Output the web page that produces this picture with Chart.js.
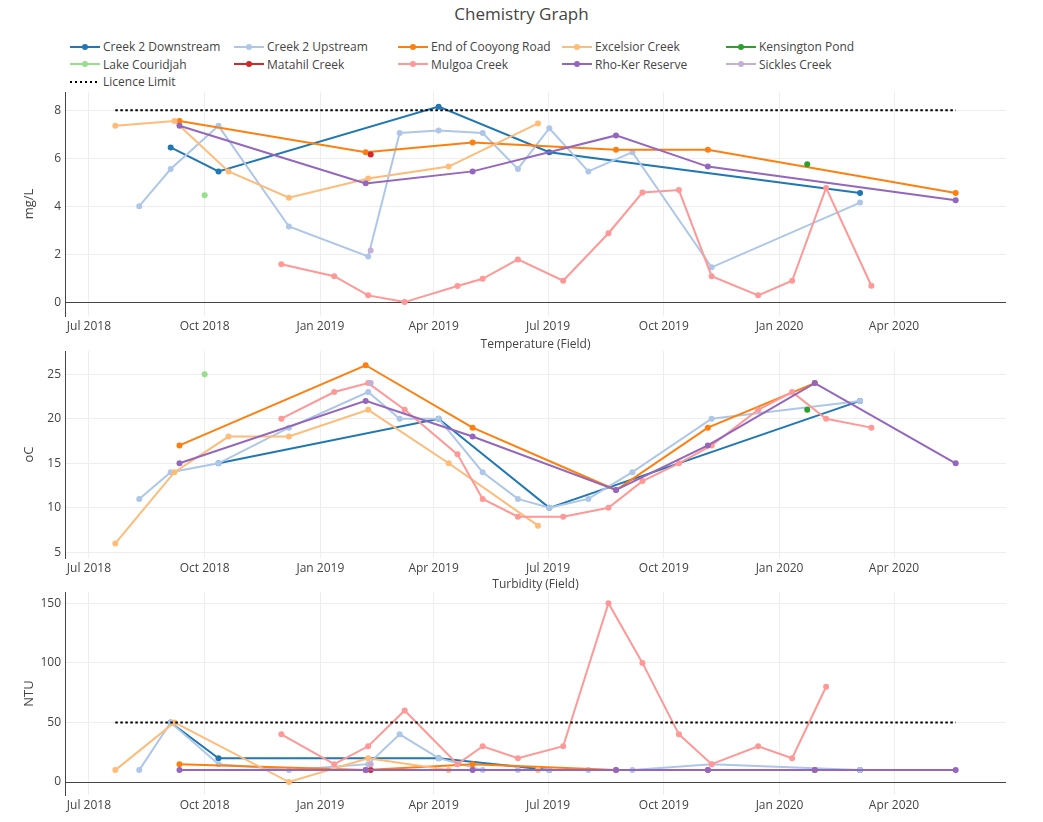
<!DOCTYPE html>
<html>
<head>
<meta charset="utf-8">
<title>Chemistry Graph</title>
<script src="https://cdn.jsdelivr.net/npm/chart.js@4/dist/chart.umd.min.js"></script>
<style>
  body { margin: 0; background: #fff; font-family: "Open Sans", sans-serif; color: #444; }
  #page { position: relative; width: 1043px; height: 822px; overflow: hidden; }
  .box { position: absolute; left: 0; width: 1043px; }
  .title { position: absolute; left: 0; top: 4px; width: 1043px; text-align: center; font-size: 17px; line-height: 20px; }
  .sub { position: absolute; left: 65px; width: 941px; text-align: center; font-size: 12px; line-height: 16px; }
  #legend { position: absolute; left: 65px; top: 38px; display: grid; grid-template-columns: repeat(5, 164px); grid-auto-rows: 17.5px; font-size: 12px; }
  .item { display: flex; align-items: center; white-space: nowrap; }
  .sym { position: relative; width: 30px; height: 10px; margin: 0 3px 0 5px; }
  .sym .ln { position: absolute; left: 0; right: 0; top: 4px; height: 2px; }
  .sym .dot { position: absolute; left: 12px; top: 2px; width: 6px; height: 6px; border-radius: 50%; }
  .sym .dash { position: absolute; left: 0; right: 0; top: 4px; height: 2px;
    background: repeating-linear-gradient(90deg, #000 0 2.5px, transparent 2.5px 5px); }
</style>
</head>
<body>
<div id="page">
  <div class="title">Chemistry Graph</div>
  <div id="legend"></div>
  <div class="box" style="top:88px;height:248px"><canvas id="doChart"></canvas></div>
  <div class="box" style="top:347px;height:231px"><canvas id="tempChart"></canvas></div>
  <div class="box" style="top:588px;height:227px"><canvas id="ntuChart"></canvas></div>
  <div class="sub" style="top:336px">Temperature (Field)</div>
  <div class="sub" style="top:576px">Turbidity (Field)</div>
</div>
<script>
const siteNames = ['Creek 2 Downstream', 'Creek 2 Upstream', 'End of Cooyong Road', 'Excelsior Creek', 'Kensington Pond',
  'Lake Couridjah', 'Matahil Creek', 'Mulgoa Creek', 'Rho-Ker Reserve', 'Sickles Creek'];
const siteColors = ['#1f77b4', '#aec7e8', '#ff7f0e', '#ffbb78', '#2ca02c',
  '#98df8a', '#d62728', '#ff9896', '#9467bd', '#c5b0d5'];

const quarterTicks = ['2018-07-01', '2018-10-01', '2019-01-01', '2019-04-01', '2019-07-01',
  '2019-10-01', '2020-01-01', '2020-04-01'];
const monthNames = ['Jan', 'Feb', 'Mar', 'Apr', 'May', 'Jun', 'Jul', 'Aug', 'Sep', 'Oct', 'Nov', 'Dec'];

// dissolved oxygen, mg/L
const doCreek2Down = [['2018-09-04', 6.45], ['2018-10-12', 5.45], ['2019-04-05', 8.15], ['2019-07-02', 6.25], ['2020-03-05', 4.55]];
const doCreek2Up = [['2018-08-10', 4.0], ['2018-09-04', 5.55], ['2018-10-12', 7.35], ['2018-12-07', 3.15], ['2019-02-08', 1.9],
  ['2019-03-05', 7.05], ['2019-04-05', 7.15], ['2019-05-10', 7.05], ['2019-06-07', 5.55], ['2019-07-02', 7.25],
  ['2019-08-02', 5.45], ['2019-09-06', 6.25], ['2019-11-08', 1.45], ['2020-03-05', 4.15]];
const doCooyong = [['2018-09-11', 7.55], ['2019-02-06', 6.25], ['2019-05-02', 6.65], ['2019-08-24', 6.35], ['2019-11-05', 6.35], ['2020-05-20', 4.55]];
const doExcelsior = [['2018-07-22', 7.35], ['2018-09-07', 7.55], ['2018-10-20', 5.45], ['2018-12-07', 4.35], ['2019-02-08', 5.15],
  ['2019-04-13', 5.65], ['2019-06-23', 7.45]];
const doKensington = [['2020-01-23', 5.75]];
const doCouridjah = [['2018-10-01', 4.45]];
const doMatahil = [['2019-02-10', 6.15]];
const doMulgoa = [['2018-12-01', 1.58], ['2019-01-12', 1.08], ['2019-02-08', 0.28], ['2019-03-09', 0.0], ['2019-04-20', 0.67],
  ['2019-05-10', 0.97], ['2019-06-07', 1.78], ['2019-07-13', 0.89], ['2019-08-18', 2.87], ['2019-09-14', 4.57],
  ['2019-10-13', 4.67], ['2019-11-08', 1.08], ['2019-12-15', 0.28], ['2020-01-11', 0.89], ['2020-02-07', 4.76], ['2020-03-14', 0.68]];
const doRhoKer = [['2018-09-11', 7.35], ['2019-02-06', 4.95], ['2019-05-02', 5.45], ['2019-08-24', 6.95], ['2019-11-05', 5.65], ['2020-05-20', 4.25]];
const doSickles = [['2019-02-10', 2.15]];
const doLimit = [['2018-07-22', 8], ['2020-05-20', 8]];
const doTicks = [0, 2, 4, 6, 8];

// temperature, oC
const tCreek2Down = [['2018-10-12', 15], ['2019-04-05', 20], ['2019-07-02', 10], ['2020-03-05', 22]];
const tCreek2Up = [['2018-08-10', 11], ['2018-09-04', 14], ['2018-10-12', 15], ['2018-12-07', 19], ['2019-02-08', 23],
  ['2019-03-05', 20], ['2019-04-05', 20], ['2019-05-10', 14], ['2019-06-07', 11], ['2019-07-02', 10],
  ['2019-08-02', 11], ['2019-09-06', 14], ['2019-11-08', 20], ['2020-03-05', 22]];
const tCooyong = [['2018-09-11', 17], ['2019-02-06', 26], ['2019-05-02', 19], ['2019-08-24', 12], ['2019-11-05', 19], ['2020-01-29', 24]];
const tExcelsior = [['2018-07-22', 6], ['2018-09-07', 14], ['2018-10-20', 18], ['2018-12-07', 18], ['2019-02-08', 21],
  ['2019-04-13', 15], ['2019-06-23', 8]];
const tKensington = [['2020-01-23', 21]];
const tCouridjah = [['2018-10-01', 25]];
const tMulgoa = [['2018-12-01', 20], ['2019-01-12', 23], ['2019-02-08', 24], ['2019-03-09', 21], ['2019-04-20', 16],
  ['2019-05-10', 11], ['2019-06-07', 9], ['2019-07-13', 9], ['2019-08-18', 10], ['2019-09-14', 13],
  ['2019-10-13', 15], ['2019-11-08', 17], ['2019-12-15', 21], ['2020-01-11', 23], ['2020-02-07', 20], ['2020-03-14', 19]];
const tRhoKer = [['2018-09-11', 15], ['2019-02-06', 22], ['2019-05-02', 18], ['2019-08-24', 12], ['2019-11-05', 17],
  ['2020-01-29', 24], ['2020-05-20', 15]];
const tSickles = [['2019-02-10', 24]];
const tTicks = [5, 10, 15, 20, 25];

// turbidity, NTU
const nCreek2Down = [['2018-09-04', 50], ['2018-10-12', 20], ['2019-04-05', 20], ['2019-07-02', 10], ['2020-03-05', 10]];
const nCreek2Up = [['2018-08-10', 10], ['2018-09-04', 50], ['2018-10-12', 15], ['2018-12-07', 10], ['2019-02-08', 15],
  ['2019-03-05', 40], ['2019-04-05', 20], ['2019-05-10', 10], ['2019-06-07', 10], ['2019-07-02', 10],
  ['2019-08-02', 10], ['2019-09-06', 10], ['2019-11-08', 15], ['2020-03-05', 10]];
const nCooyong = [['2018-09-11', 15], ['2019-02-06', 10], ['2019-05-02', 15], ['2019-08-24', 10], ['2019-11-05', 10], ['2020-01-29', 10]];
const nExcelsior = [['2018-07-22', 10], ['2018-09-07', 50], ['2018-12-07', 0], ['2019-02-08', 20], ['2019-04-13', 10], ['2019-06-23', 10]];
const nMatahil = [['2019-02-10', 10]];
const nMulgoa = [['2018-12-01', 40], ['2019-01-12', 15], ['2019-02-08', 30], ['2019-03-09', 60], ['2019-04-20', 15],
  ['2019-05-10', 30], ['2019-06-07', 20], ['2019-07-13', 30], ['2019-08-18', 150], ['2019-09-14', 100],
  ['2019-10-13', 40], ['2019-11-08', 15], ['2019-12-15', 30], ['2020-01-11', 20], ['2020-02-07', 80]];
const nRhoKer = [['2018-09-11', 10], ['2019-02-06', 10], ['2019-05-02', 10], ['2019-08-24', 10], ['2019-11-05', 10],
  ['2020-01-29', 10], ['2020-05-20', 10]];
const nSickles = [['2019-02-10', 15]];
const nLimit = [['2018-07-22', 50], ['2020-05-20', 50]];
const nTicks = [0, 50, 100, 150];

Chart.defaults.font.family = '"Open Sans", sans-serif';
Chart.defaults.color = '#444';

const xMin = Date.parse('2018-06-12');
const xMax = Date.parse('2020-06-29');

const toPoints = (pts) => pts.map(p => ({ x: Date.parse(p[0]), y: p[1] }));

function makeDatasets(series, limit) {
    const ds = [];
    series.forEach((pts, i) => {
        if (!pts) return;
        ds.push({
            label: siteNames[i],
            data: toPoints(pts),
            borderColor: siteColors[i],
            backgroundColor: siteColors[i],
            borderWidth: 2,
            pointRadius: 3,
            pointBorderWidth: 0,
            pointHoverRadius: 3,
            tension: 0,
            order: -i,
        });
    });
    if (limit) {
        ds.push({
            label: 'Licence Limit',
            data: toPoints(limit),
            borderColor: '#000',
            borderWidth: 2,
            borderDash: [2.5, 2.5],
            pointRadius: 0,
            tension: 0,
            order: -20,
        });
    }
    return ds;
}

function makeOptions(yTitle, yMin, yMax, yTicks, zeroLine) {
    return {
        responsive: true,
        maintainAspectRatio: false,
        animation: false,
        layout: { padding: { top: 4, right: 37, left: 0, bottom: 0 } },
        plugins: {
            legend: { display: false },
            tooltip: { enabled: false },
        },
        scales: {
            x: {
                type: 'linear',
                min: xMin,
                max: xMax,
                afterBuildTicks: (s) => { s.ticks = quarterTicks.map(d => ({ value: Date.parse(d) })); },
                afterFit: (s) => { s.height = 20; s.paddingLeft = 0; s.paddingRight = 0; },
                ticks: {
                    callback: (v) => {
                        const d = new Date(v);
                        return monthNames[d.getUTCMonth()] + ' ' + d.getUTCFullYear();
                    },
                    color: '#444',
                    font: { size: 12 },
                    padding: 3,
                    maxRotation: 0,
                    autoSkip: false,
                },
                grid: { color: '#eee', drawTicks: false },
                border: { display: false },
            },
            y: {
                min: yMin,
                max: yMax,
                afterBuildTicks: (s) => { s.ticks = yTicks.map(v => ({ value: v })); },
                // fixed axis width and no label overhang, so the three plots line up
                afterFit: (s) => { s.width = 65; s.paddingTop = 0; s.paddingBottom = 0; },
                ticks: { color: '#444', font: { size: 12 }, padding: 4 },
                grid: {
                    color: (c) => (zeroLine && c.tick && c.tick.value === 0) ? '#444' : '#eee',
                    drawTicks: false,
                },
                border: { display: true, color: '#444' },
                title: {
                    display: true,
                    text: yTitle,
                    color: '#444',
                    font: { size: 13 },
                    padding: { top: 21, bottom: 0 },
                },
            },
        },
    };
}

new Chart(document.getElementById('doChart'), {
    type: 'line',
    data: {
        datasets: makeDatasets([doCreek2Down, doCreek2Up, doCooyong, doExcelsior, doKensington,
            doCouridjah, doMatahil, doMulgoa, doRhoKer, doSickles], doLimit)
    },
    options: makeOptions('mg/L', -0.58, 8.76, doTicks, true),
});

new Chart(document.getElementById('tempChart'), {
    type: 'line',
    data: {
        datasets: makeDatasets([tCreek2Down, tCreek2Up, tCooyong, tExcelsior, tKensington,
            tCouridjah, null, tMulgoa, tRhoKer, tSickles], null)
    },
    options: makeOptions('oC', 4.37, 27.6, tTicks, false),
});

new Chart(document.getElementById('ntuChart'), {
    type: 'line',
    data: {
        datasets: makeDatasets([nCreek2Down, nCreek2Up, nCooyong, nExcelsior, null,
            null, nMatahil, nMulgoa, nRhoKer, nSickles], nLimit)
    },
    options: makeOptions('NTU', -10.9, 159.5, nTicks, true),
});

// legend, laid out in fixed columns like the original
const legend = document.getElementById('legend');
siteNames.forEach((name, i) => {
    const item = document.createElement('div');
    item.className = 'item';
    item.innerHTML = '<span class="sym"><span class="ln" style="background:' + siteColors[i] + '"></span>' +
        '<span class="dot" style="background:' + siteColors[i] + '"></span></span><span>' + name + '</span>';
    legend.appendChild(item);
});
const limitItem = document.createElement('div');
limitItem.className = 'item';
limitItem.innerHTML = '<span class="sym"><span class="dash"></span></span><span>Licence Limit</span>';
legend.appendChild(limitItem);
</script>
</body>
</html>
